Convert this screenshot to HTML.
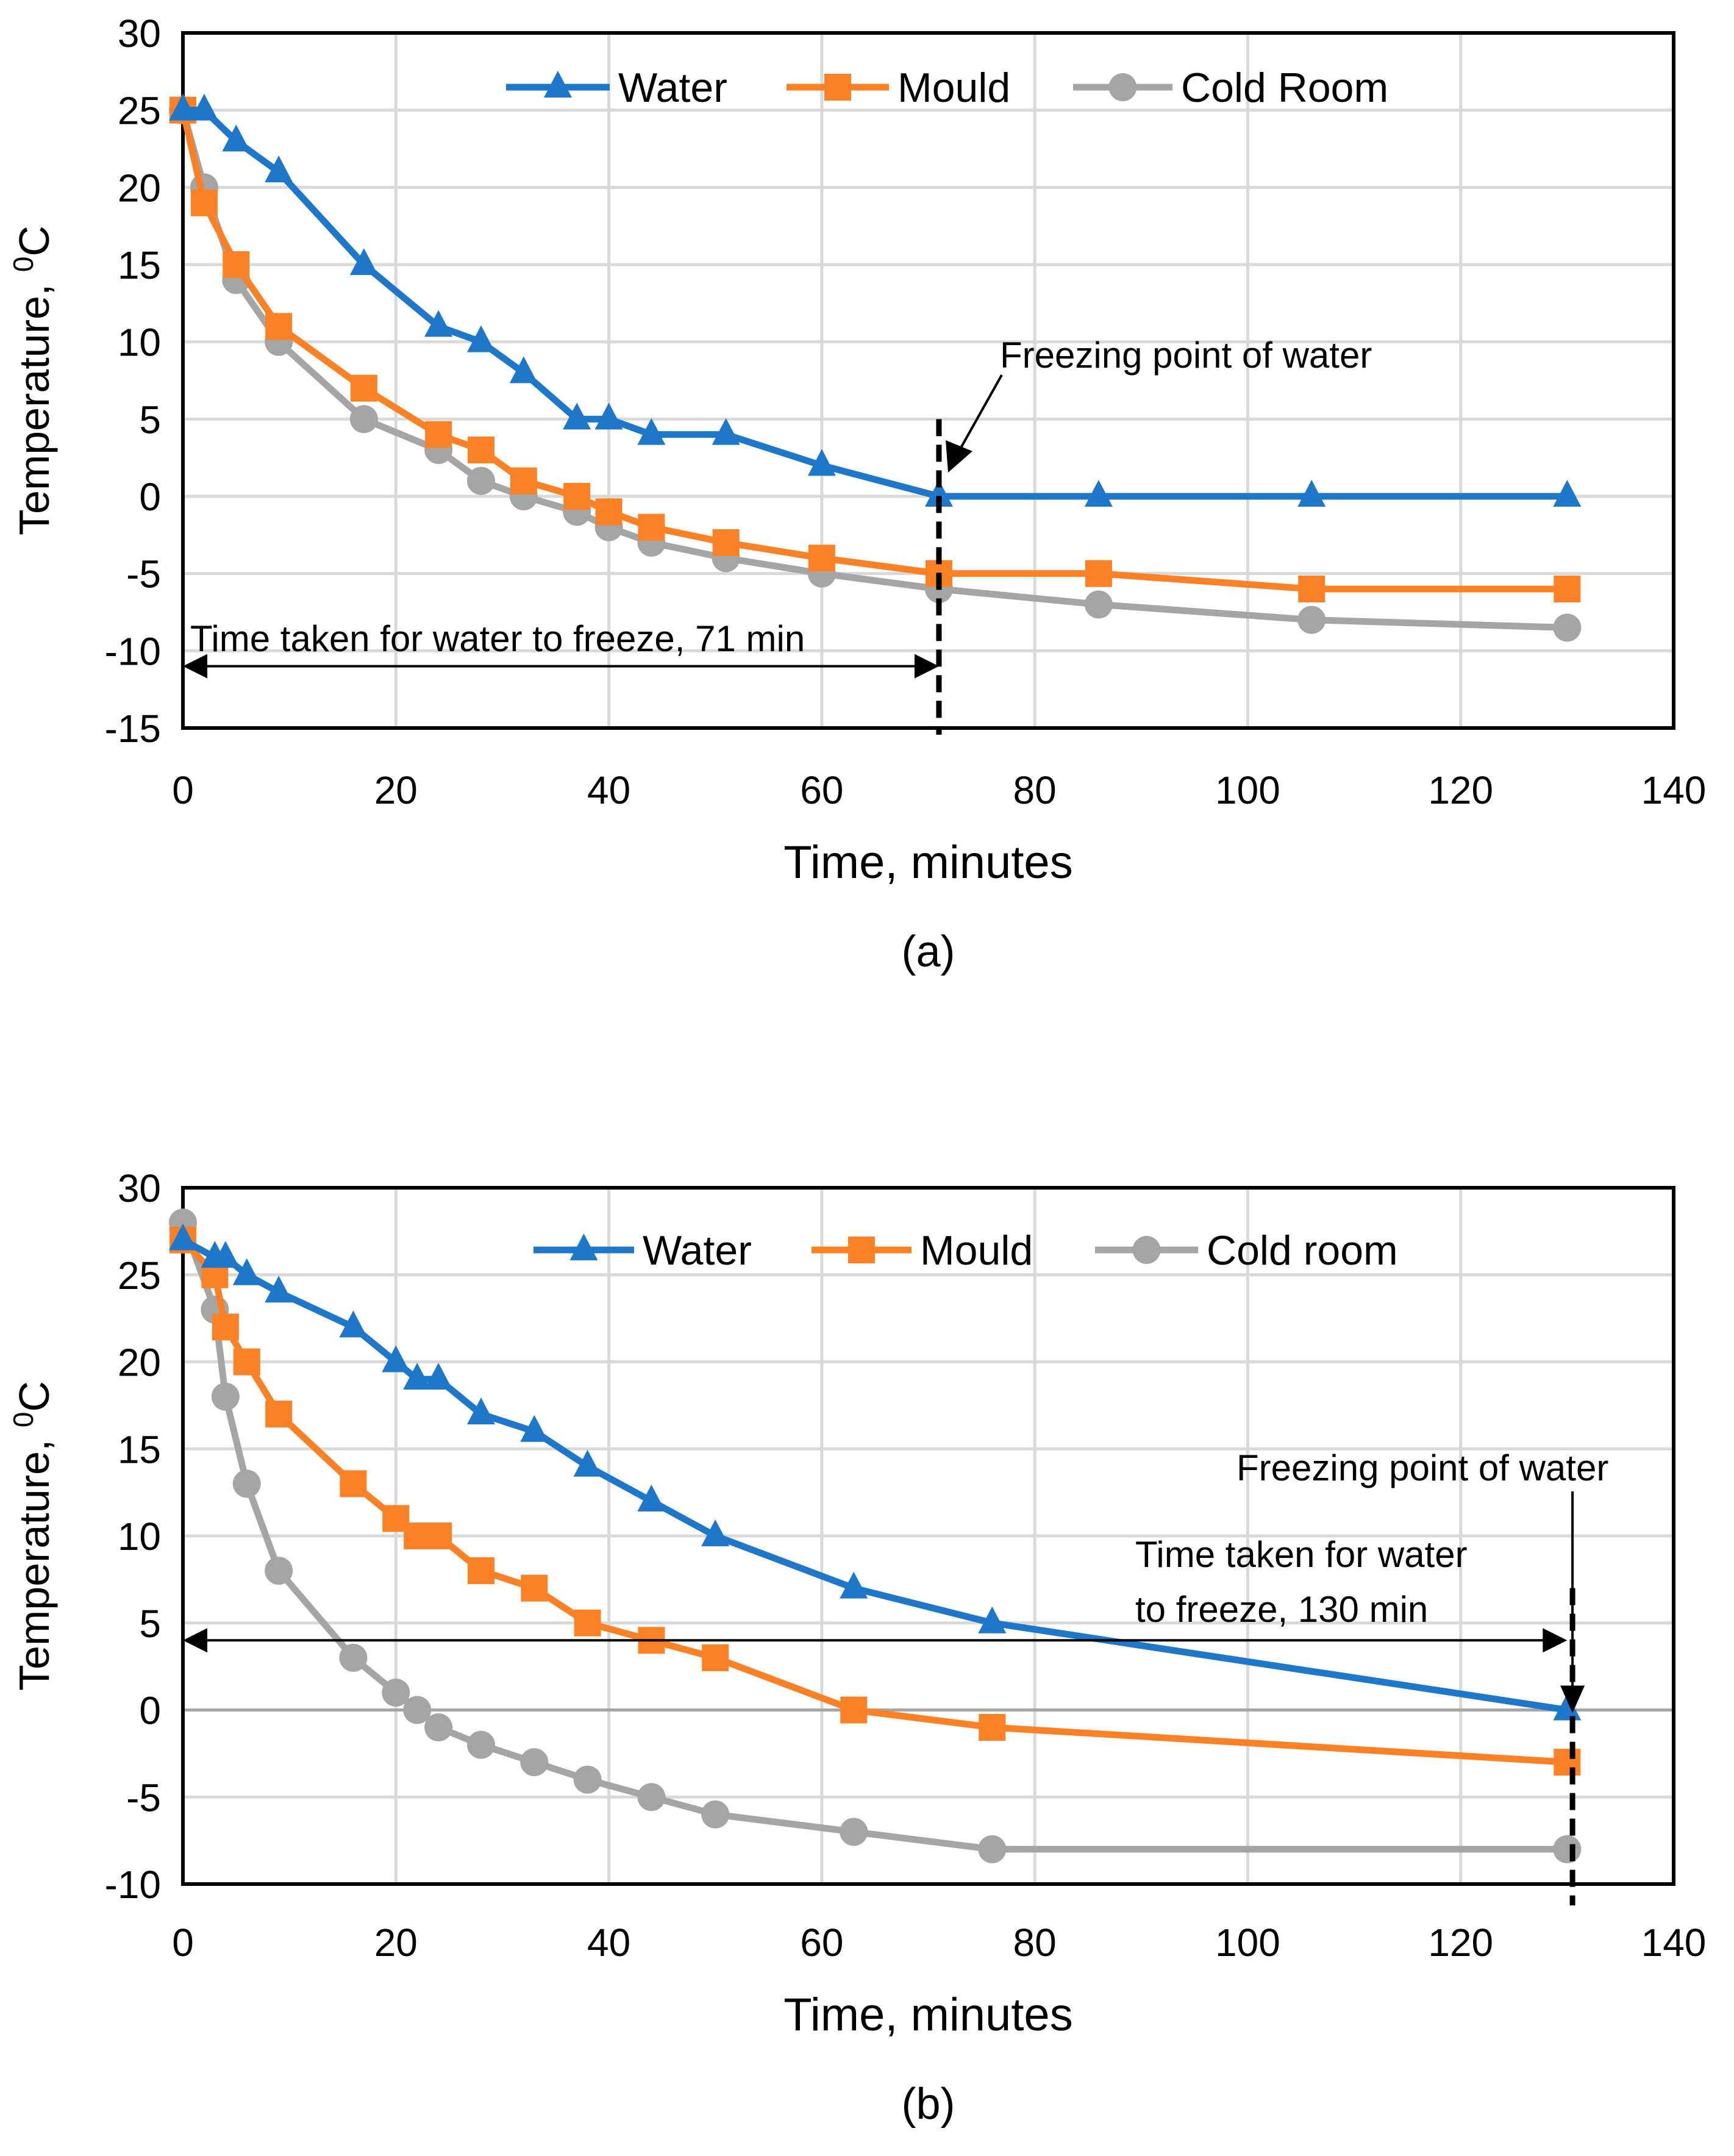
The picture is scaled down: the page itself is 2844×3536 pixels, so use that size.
<!DOCTYPE html>
<html><head><meta charset="utf-8"><style>
html,body{margin:0;padding:0;background:#fff}
svg{display:block;font-family:"Liberation Sans",sans-serif}
</style></head><body>
<svg id="s" width="2844" height="3536" viewBox="0 0 2844 3536" xmlns="http://www.w3.org/2000/svg"></svg>
<script>
// Chart (a) data
const aTime = [0,2,5,9,17,24,28,32,37,40,44,51,60,71,86,106,130];
const aWater = [25,25,23,21,15,11,10,8,5,5,4,4,2,0,0,0,0];
const aMould = [25,19,15,11,7,4,3,1,0,-1,-2,-3,-4,-5,-5,-6,-6];
const aCold = [25,20,14,10,5,3,1,0,-1,-2,-3,-4,-5,-6,-7,-8,-8.5];
const aYTicks = [30,25,20,15,10,5,0,-5,-10,-15];
// Chart (b) data
const bTime = [0,3,4,6,9,16,20,22,24,28,33,38,44,50,63,76,130];
const bWater = [27,26,26,25,24,22,20,19,19,17,16,14,12,10,7,5,0];
const bMould = [27,25,22,20,17,13,11,10,10,8,7,5,4,3,0,-1,-3];
const bCold = [28,23,18,13,8,3,1,0,-1,-2,-3,-4,-5,-6,-7,-8,-8];
const bYTicks = [30,25,20,15,10,5,0,-5,-10];
const xTicks = [0,20,40,60,80,100,120,140];

const NS="http://www.w3.org/2000/svg";
const svg=document.getElementById('s');
function el(tag,attrs,parent,text){const e=document.createElementNS(NS,tag);for(const k in attrs)e.setAttribute(k,attrs[k]);if(text!==undefined)e.textContent=text;(parent||svg).appendChild(e);return e;}
const BLUE="#1f77c9",ORANGE="#fb8126",GRAY="#a5a5a5";

function marker(g,type,x,y,color){
  let m;
  if(type==='tri') m=el('polygon',{points:`${x},${y-27} ${x-23},${y+17} ${x+23},${y+17}`,fill:color},g);
  else if(type==='sq') m=el('rect',{x:x-22,y:y-22,width:44,height:44,fill:color},g);
  else m=el('circle',{cx:x,cy:y,r:23,fill:color},g);
  
  
}

function chart(cfg){
  const {L,R,T,B,ymin,ymax,yTicks,id}=cfg;
  const X=v=>L+(v-0)/140*(R-L);
  const Y=v=>B-(v-ymin)/(ymax-ymin)*(B-T);
  const g=el('g',{});  
  xTicks.forEach(t=>{const l=el('line',{x1:X(t),x2:X(t),y1:T,y2:B,stroke:'#d9d9d9','stroke-width':5},g);});
  yTicks.forEach(t=>{const l=el('line',{x1:L,x2:R,y1:Y(t),y2:Y(t),stroke:(id==='b'&&t===0)?'#a6a6a6':'#d9d9d9','stroke-width':5},g);});
  const fr=el('rect',{x:L,y:T,width:R-L,height:B-T,fill:'none',stroke:'#000','stroke-width':6},g);
  
  yTicks.forEach(t=>{const tx=el('text',{x:L-36,y:Y(t)+23,'text-anchor':'end','font-size':64},g,String(t));});
  xTicks.forEach(t=>{const tx=el('text',{x:X(t),y:cfg.xTickY,'text-anchor':'middle','font-size':64},g,String(t));});
  const xt=el('text',{x:(L+R)/2,y:cfg.xTitleY,'text-anchor':'middle','font-size':76},g,'Time, minutes');
  
  const yc=(T+B)/2;
  const yt=el('text',{x:0,y:0,'text-anchor':'middle','font-size':70,transform:`translate(80,${yc}) rotate(-90)`},g);
  
  el('tspan',{},yt,'Temperature, ');el('tspan',{'baseline-shift':'super','font-size':46},yt,'0');el('tspan',{},yt,'C');
  const cap=el('text',{x:(L+R)/2,y:cfg.capY,'text-anchor':'middle','font-size':72},g,'('+id+')');
  
  const series=[[cfg.cold,GRAY,'circ','cold-room-series'],[cfg.mould,ORANGE,'sq','mould-series'],[cfg.water,BLUE,'tri','water-series']];
  series.forEach(([vals,col,mt,name])=>{
    const sg=el('g',{},g);
    el('polyline',{points:cfg.time.map((t,i)=>X(t)+','+Y(vals[i])).join(' '),fill:'none',stroke:col,'stroke-width':11,'stroke-linejoin':'round'},sg);
    cfg.time.forEach((t,i)=>marker(sg,mt,X(t),Y(vals[i]),col));
  });
  const lg=el('g',{},g);
  cfg.legend.forEach(([x1,x2,col,mt,label])=>{
    const e=el('g',{},lg);
    el('line',{x1,x2,y1:cfg.legY,y2:cfg.legY,stroke:col,'stroke-width':11},e);
    marker(e,mt,(x1+x2)/2,cfg.legY,col);
    el('text',{x:x2+14,y:cfg.legY+24,'font-size':68},e,label);
  });
  return {X,Y,g};
}
function arrowHead(g,x,y,dir){
  let p;
  if(dir==='l') p=`${x},${y} ${x+40},${y-20} ${x+40},${y+20}`;
  else if(dir==='r') p=`${x},${y} ${x-40},${y-20} ${x-40},${y+20}`;
  else p=`${x},${y} ${x-20},${y-45} ${x+20},${y-45}`;
  el('polygon',{points:p,fill:'#000'},g);
}

const A=chart({id:'a',L:300,R:2745,T:54,B:1194,ymin:-15,ymax:30,yTicks:aYTicks,time:aTime,water:aWater,mould:aMould,cold:aCold,
  xTickY:1318,xTitleY:1440,capY:1585,legY:143,
  legend:[[830,1000,BLUE,'tri','Water'],[1290,1458,ORANGE,'sq','Mould'],[1760,1923,GRAY,'circ','Cold Room']]});
{
  const g=el('g',{});
  const x=A.X(71);
  el('line',{x1:x,x2:x,y1:A.Y(5),y2:1205,stroke:'#000','stroke-width':9,'stroke-dasharray':'28,14'},g);
  const y=A.Y(-11);
  el('line',{x1:A.X(0)+20,x2:x-20,y1:y,y2:y,stroke:'#000','stroke-width':4},g);
  arrowHead(g,A.X(0),y,'l');arrowHead(g,x,y,'r');
  el('text',{x:312,y:1068,'font-size':60},g,'Time taken for water to freeze, 71 min');
  el('text',{x:1640,y:603,'font-size':60},g,'Freezing point of water');
  el('line',{x1:1643,y1:615,x2:1570,y2:745,stroke:'#000','stroke-width':4},g);
  el('polygon',{points:'1555,775 1551,722 1595,740',fill:'#000'},g);
}
const Bc=chart({id:'b',L:300,R:2745,T:1948,B:3090,ymin:-10,ymax:30,yTicks:bYTicks,time:bTime,water:bWater,mould:bMould,cold:bCold,
  xTickY:3208,xTitleY:3330,capY:3475,legY:2050,
  legend:[[875,1040,BLUE,'tri','Water'],[1331,1495,ORANGE,'sq','Mould'],[1796,1965,GRAY,'circ','Cold room']]});
{
  const g=el('g',{});
  const x=Bc.X(130.5);
  el('line',{x1:x,x2:x,y1:Bc.Y(7),y2:3125,stroke:'#000','stroke-width':9,'stroke-dasharray':'28,14'},g);
  const y=Bc.Y(4);
  el('line',{x1:Bc.X(0)+20,x2:Bc.X(130)-20,y1:y,y2:y,stroke:'#000','stroke-width':4},g);
  arrowHead(g,Bc.X(0),y,'l');arrowHead(g,Bc.X(130),y,'r');
  el('text',{x:2028,y:2428,'font-size':60},g,'Freezing point of water');
  el('line',{x1:x,y1:2446,x2:x,y2:Bc.Y(0)-40,stroke:'#000','stroke-width':4},g);
  arrowHead(g,x,Bc.Y(0)+5,'d');
  el('text',{x:1862,y:2570,'font-size':60},g,'Time taken for water');
  el('text',{x:1862,y:2660,'font-size':60},g,'to freeze, 130 min');
}
</script>
</body></html>
